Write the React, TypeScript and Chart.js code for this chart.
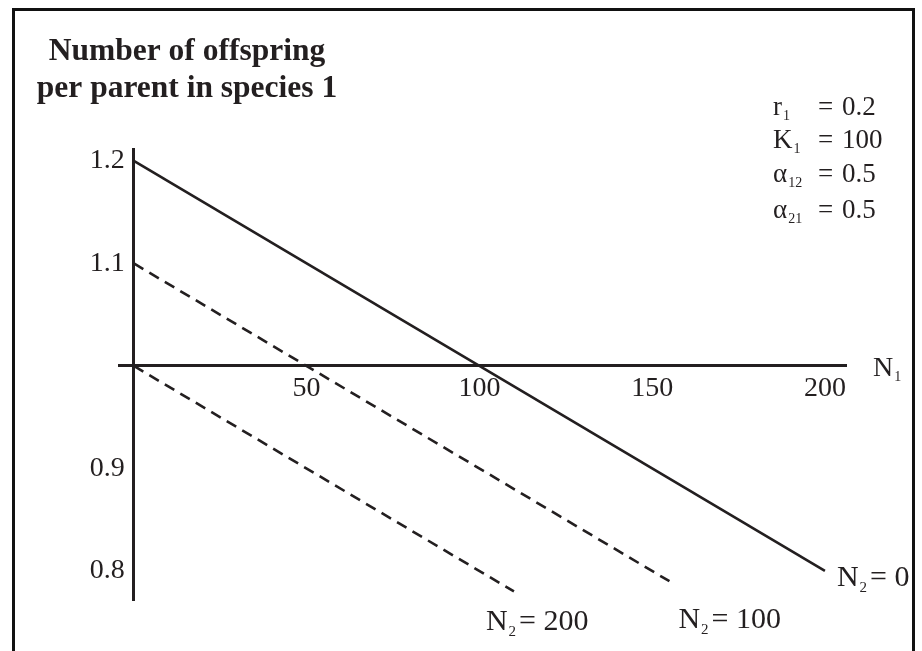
import React, { useEffect, useRef } from 'react';
import { Chart, registerables } from 'chart.js';

Chart.register(...registerables);

// ---- data ----
const N1_N2_0 = [0, 200];
const Y_N2_0 = [1.2, 0.8];
const N1_N2_100 = [0, 155];
const Y_N2_100 = [1.1, 0.79];
const N1_N2_200 = [0, 110];
const Y_N2_200 = [1.0, 0.78];

const SERIES_N2 = ['0', '100', '200'];
const X_TICKS = [50, 100, 150, 200];
const Y_TICKS = [0.8, 0.9, 1.1, 1.2];
const X_RANGE = [-4.3, 206.1];
const Y_RANGE = [0.7717, 1.2117];
const AXIS_CROSS_Y = 1.0;
const AXIS_CROSS_X = 0;

const TITLE_LINES = ['Number of offspring', 'per parent in species 1'];
const PARAM_SYMBOLS = ['r', 'K', '\u03B1', '\u03B1'];
const PARAM_SUBS = ['1', '1', '12', '21'];
const PARAM_VALUES = ['0.2', '100', '0.5', '0.5'];
const X_AXIS_NAME = 'N';
const X_AXIS_SUB = '1';

const FONT = "'Liberation Serif', 'Times New Roman', Times, serif";
const INK = '#231f20';
const Y_LABEL_GAP = 9;

function drawSub(ctx: CanvasRenderingContext2D, x: number, y: number, main: string, sub: string, size: number, subSize: number, drop: number) {
  ctx.font = `${size}px ${FONT}`;
  ctx.fillText(main, x, y);
  const w = ctx.measureText(main).width;
  ctx.font = `${subSize}px ${FONT}`;
  ctx.fillText(sub, x + w + 1, y + drop);
  const sw = ctx.measureText(sub).width;
  return x + w + 1 + sw;
}

// y-axis placed at x = 0 gets no label padding in Chart.js: shift its labels left
const yLabelGapPlugin = {
  id: 'yLabelGap',
  beforeDraw(chart: any) {
    const s = chart.scales.y;
    if (!s || !s.getLabelItems) return;
    const items = s.getLabelItems(chart.chartArea);
    items.forEach((it: any) => {
      if (!it.__shifted && it.options && it.options.translation) {
        it.options.translation[0] -= Y_LABEL_GAP;
        it.__shifted = true;
      }
    });
  },
};

const textPlugin = {
  id: 'textPlugin',
  afterDraw(chart: any) {
    const ctx: CanvasRenderingContext2D = chart.ctx;
    const { chartArea, scales } = chart;
    ctx.save();
    ctx.fillStyle = INK;
    ctx.textBaseline = 'alphabetic';

    // title
    ctx.textAlign = 'center';
    ctx.font = `bold 31.5px ${FONT}`;
    ctx.fillText(TITLE_LINES[0], 187, 60);
    ctx.fillText(TITLE_LINES[1], 187, 97);

    // parameters
    ctx.textAlign = 'left';
    const baselines = [115, 148, 182, 218];
    PARAM_SYMBOLS.forEach((s, i) => {
      drawSub(ctx, 773, baselines[i], s, PARAM_SUBS[i], 27, 14, 5);
      ctx.font = `27px ${FONT}`;
      ctx.fillText('=', 818, baselines[i]);
      ctx.fillText(PARAM_VALUES[i], 842, baselines[i]);
    });

    // x axis name
    const yAxisPix = scales.y.getPixelForValue(AXIS_CROSS_Y);
    drawSub(ctx, chartArea.right + 27, yAxisPix + 10, X_AXIS_NAME, X_AXIS_SUB, 28, 14, 5);

    // series labels at line ends
    const offsets = [[12, 15], [9, 47], [-28, 39]];
    chart.data.datasets.forEach((ds: any, i: number) => {
      const meta = chart.getDatasetMeta(i);
      const last = meta.data[meta.data.length - 1];
      const x0 = last.x + offsets[i][0];
      const y0 = last.y + offsets[i][1];
      const after = drawSub(ctx, x0, y0, 'N', '2', 30, 15, 6);
      ctx.font = `30px ${FONT}`;
      ctx.fillText('= ' + SERIES_N2[i], after + 3, y0);
    });
    ctx.restore();
  },
};

function toPoints(xs: number[], ys: number[]) {
  return xs.map((x, i) => ({ x, y: ys[i] }));
}

export default function App() {
  const ref = useRef<HTMLCanvasElement>(null);
  useEffect(() => {
    if (!ref.current) return;
    const common = { borderColor: INK, borderWidth: 2.6, pointRadius: 0, fill: false, tension: 0, borderCapStyle: 'butt' };
    const chart = new Chart(ref.current, {
      type: 'line',
      data: {
        datasets: [
          { ...common, label: 'N2 = ' + SERIES_N2[0], data: toPoints(N1_N2_0, Y_N2_0) },
          { ...common, label: 'N2 = ' + SERIES_N2[1], data: toPoints(N1_N2_100, Y_N2_100), borderDash: [11, 7] },
          { ...common, label: 'N2 = ' + SERIES_N2[2], data: toPoints(N1_N2_200, Y_N2_200), borderDash: [11, 7] },
        ] as any,
      },
      options: {
        responsive: false,
        animation: false,
        devicePixelRatio: 1,
        layout: { padding: { left: 119, right: 76, top: 149, bottom: 51 } },
        plugins: { legend: { display: false }, tooltip: { enabled: false }, title: { display: false } },
        scales: {
          x: {
            type: 'linear',
            min: X_RANGE[0],
            max: X_RANGE[1],
            position: { y: AXIS_CROSS_Y } as any,
            grid: { display: false, drawTicks: false },
            border: { display: true, color: INK, width: 3 },
            ticks: { color: INK, font: { family: FONT, size: 28 }, padding: 6, maxRotation: 0, autoSkip: false, callback: (v: any) => String(v) },
            afterBuildTicks: (s: any) => { s.ticks = X_TICKS.map((v) => ({ value: v })); },
          },
          y: {
            type: 'linear',
            min: Y_RANGE[0],
            max: Y_RANGE[1],
            position: { x: AXIS_CROSS_X } as any,
            grid: { display: false, drawTicks: false },
            border: { display: true, color: INK, width: 3 },
            ticks: { color: INK, font: { family: FONT, size: 28 }, padding: 9, autoSkip: false, callback: (v: any) => Number(v).toFixed(1) },
            afterBuildTicks: (s: any) => { s.ticks = Y_TICKS.map((v) => ({ value: v })); },
          },
        },
      } as any,
      plugins: [yLabelGapPlugin, textPlugin],
    });
    return () => chart.destroy();
  }, []);
  return (
    <div style={{ position: 'absolute', left: 0, top: 0, width: 922, height: 651, overflow: 'hidden', background: '#fff' }}>
      <div style={{ position: 'absolute', left: 12, top: 8, width: 903, height: 700, border: '3px solid #111', boxSizing: 'border-box' }} />
      <canvas ref={ref} width={922} height={651} style={{ position: 'absolute', left: 0, top: 0 }} />
    </div>
  );
}
